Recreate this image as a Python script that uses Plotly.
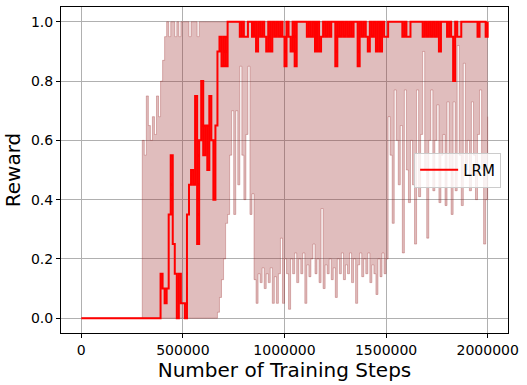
import plotly.graph_objects as go

# training steps, sampled every 10000 steps
steps = [i * 10000 for i in range(201)]

# mean reward (red line)
mean_reward = (
    [0.0] * 39
    + [0.15, 0.1, 0.05, 0.1, 0.35, 0.55, 0.25, 0.15, 0.0, 0.15, 0.05]
    + [0.05, 0.0, 0.35, 0.45, 0.5, 0.45, 0.75, 0.25, 0.6, 0.8]
    + [0.55, 0.65, 0.5, 0.75, 0.6, 0.4, 0.65, 0.9, 0.95, 0.85]
    + [0.95, 0.85, 1.0, 1.0, 1.0, 1.0, 1.0, 1.0, 0.95, 1.0]
    + [0.95, 0.95, 1.0, 1.0, 0.95, 1.0, 0.9, 1.0, 0.95, 1.0]
    + [0.95, 0.9, 1.0, 0.9, 1.0, 0.95, 1.0, 0.95, 1.0, 0.95]
    + [0.85, 1.0, 0.95, 0.9, 1.0, 0.85, 1.0, 1.0, 1.0, 1.0]
    + [1.0, 0.95, 1.0, 0.95, 1.0, 0.9, 1.0, 0.9, 0.95, 1.0]
    + [0.95, 1.0, 0.95, 1.0, 1.0, 0.85, 1.0, 0.95, 1.0, 0.95]
    + [1.0, 0.95, 1.0, 0.95, 1.0, 1.0, 0.85, 1.0, 0.95, 1.0]
    + [0.95, 0.9, 1.0, 0.95, 1.0, 0.9, 1.0, 0.9, 1.0, 0.95]
    + [0.95, 1.0, 1.0, 1.0, 1.0, 1.0, 1.0, 1.0, 0.95, 1.0]
    + [0.95, 0.95, 1.0, 1.0, 1.0, 1.0, 1.0, 1.0, 0.95, 1.0]
    + [0.95, 1.0, 0.95, 1.0, 0.95, 1.0, 0.9, 1.0, 1.0, 1.0]
    + [0.95, 1.0, 0.95, 0.8, 1.0, 0.95, 0.95, 1.0, 1.0, 1.0]
    + [1.0, 1.0, 1.0, 1.0, 1.0, 0.95, 1.0, 1.0, 1.0, 0.95]
    + [1.0]
)

# upper edge of the shaded band
upper_reward = (
    [0.0] * 30
    + [0.6, 0.55, 0.75, 0.65, 0.6, 0.68, 0.62, 0.75, 0.68, 0.8]
    + [0.87, 0.95, 1.0, 0.95, 1.0, 1.0, 0.95, 1.0, 0.95, 1.0]
    + [1.0, 1.0, 1.0, 0.95, 1.0, 1.0, 1.0, 0.95]
    + [1.0] * 143
)

# lower edge of the shaded band
lower_reward = (
    [0.0] * 67
    + [0.02, 0.07, 0.13]
    + [0.2, 0.32, 0.35, 0.55, 0.7, 0.35, 0.7, 0.45, 0.85, 0.55]
    + [0.4, 0.62, 0.85, 0.35, 0.42, 0.13, 0.05, 0.15, 0.12, 0.17]
    + [0.1, 0.15, 0.12, 0.17, 0.05, 0.14, 0.05, 0.15, 0.27, 0.05]
    + [0.2, 0.15, 0.03, 0.2, 0.15, 0.22, 0.12, 0.2, 0.15, 0.22]
    + [0.05, 0.18, 0.14, 0.2, 0.25, 0.15, 0.2, 0.12, 0.37, 0.1]
    + [0.18, 0.15, 0.2, 0.13, 0.17, 0.07, 0.2, 0.15, 0.22, 0.13]
    + [0.18, 0.15, 0.22, 0.12, 0.2, 0.05, 0.18, 0.22, 0.14, 0.2]
    + [0.15, 0.22, 0.12, 0.18, 0.15, 0.08, 0.2, 0.14, 0.22, 0.15]
    + [0.2, 0.68, 0.55, 0.32, 0.77, 0.6, 0.45, 0.65, 0.22, 0.77]
    + [0.5, 0.39, 0.6, 0.45, 0.25, 0.77, 0.41, 0.62, 0.9, 0.5]
    + [0.27, 0.6, 0.77, 0.43, 0.6, 0.72, 0.39, 0.55, 0.62, 0.38]
    + [0.73, 0.5, 0.35, 0.73, 0.43, 0.92, 0.55, 0.38, 0.86, 0.5]
    + [0.6, 0.43, 0.73, 0.55, 0.4, 0.62, 0.77, 0.5, 0.25, 0.4]
    + [0.68]
)

x_ticks = [0, 500000, 1000000, 1500000, 2000000]
y_ticks = [0.0, 0.2, 0.4, 0.6, 0.8, 1.0]

band = 'rgba(152,38,38,0.3)'
font = 'DejaVu Sans'

fig = go.Figure()

# shaded band between lower and upper edge
fig.add_trace(go.Scatter(x=steps, y=lower_reward, mode='lines', line_shape='hv',
                         line=dict(color=band, width=1), showlegend=False))
fig.add_trace(go.Scatter(x=steps, y=upper_reward, mode='lines', line_shape='hv',
                         line=dict(color=band, width=1), fill='tonexty',
                         fillcolor=band, showlegend=False))
fig.add_trace(go.Scatter(x=steps, y=mean_reward, mode='lines', line_shape='hv',
                         line=dict(color='red', width=2), name='LRM'))

axis_style = dict(showline=True, linecolor='black', linewidth=1, mirror=True,
                  showgrid=True, gridcolor='#b0b0b0', gridwidth=1,
                  ticks='outside', ticklen=4, tickcolor='black', zeroline=False,
                  automargin=False,
                  tickfont=dict(family=font, size=14, color='black'))

fig.update_xaxes(range=[-100000, 2100000], tickvals=x_ticks, tickformat='d',
                 title=dict(text='Number of Training Steps', standoff=2,
                            font=dict(family=font, size=20, color='black')),
                 **axis_style)
fig.update_yaxes(range=[-0.05, 1.05], tickvals=y_ticks, tickformat='.1f',
                 title=dict(text='Reward', standoff=4,
                            font=dict(family=font, size=20, color='black')),
                 **axis_style)

fig.update_layout(
    width=527, height=385,
    margin=dict(l=61, r=19, t=7, b=52),
    paper_bgcolor='white', plot_bgcolor='white',
    font=dict(family=font, size=14, color='black'),
    legend=dict(x=0.79, y=0.5, xanchor='left', yanchor='middle', itemwidth=38,
                bgcolor='rgba(255,255,255,0.8)', bordercolor='#cccccc',
                borderwidth=1, font=dict(family=font, size=15, color='black')),
)

# drop the browser's default page margin so the figure sits at the top-left corner
fig.write_html("out.html", config={'displayModeBar': False},
               post_script="document.body.style.margin = '0';")
